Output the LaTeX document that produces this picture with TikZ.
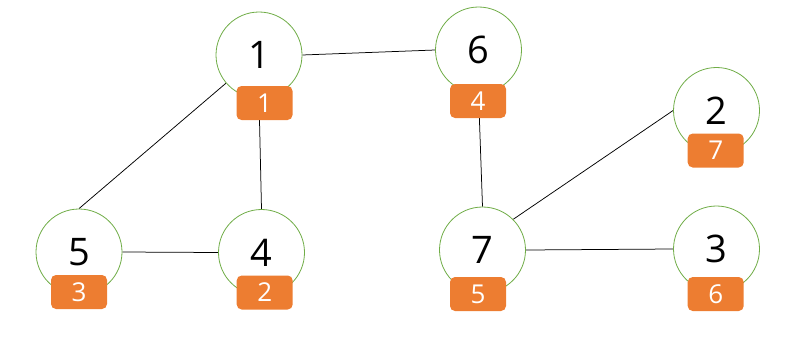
\documentclass[tikz,border=0pt]{standalone}
\usepackage{fontspec}
\setmainfont{Open Sans}
\usetikzlibrary{backgrounds}
\definecolor{cgreen}{HTML}{70AD47}
\definecolor{corange}{HTML}{ED7D31}
\begin{document}
\begin{tikzpicture}[x=1pt,y=-1pt,
 vnode/.style={circle,draw=cgreen,line width=0.8pt,fill=white,minimum size=86pt,inner sep=0pt,font=\fontsize{38}{40}\selectfont},
 tag/.style={rectangle,rounded corners=5pt,fill=corange,text=white,minimum width=56pt,minimum height=34pt,inner sep=0pt,font=\fontsize{26}{28}\selectfont},
 edge/.style={draw=black,line width=0.75pt}]
\useasboundingbox (0,0) rectangle (802,345);
% vertices
\node[vnode] (n1) at (259,55) {1};
\node[vnode] (n6) at (478.5,50) {6};
\node[vnode] (n2) at (716.5,110.5) {2};
\node[vnode] (n5) at (79,252) {5};
\node[vnode] (n4) at (261.5,252.5) {4};
\node[vnode] (n7) at (482.5,250) {7};
\node[vnode] (n3) at (716.5,249) {3};
% tags
\node[tag] (t1) at (264.5,103) {1};
\node[tag] (t6) at (478,101) {4};
\node[tag] (t2) at (715.7,150.5) {7};
\node[tag] (t5) at (79,292) {3};
\node[tag] (t4) at (264.7,292.5) {2};
\node[tag] (t7) at (478,294) {5};
\node[tag] (t3) at (715.7,294) {6};
% edges
\begin{pgfonlayer}{background}
\draw[edge] (n1.east) -- (n6.west);
\draw[edge] (n1) -- (n5.north);
\draw[edge] (n1.south) -- (n4.north);
\draw[edge] (n5.east) -- (n4.west);
\draw[edge] (n6.south) -- (n7.north);
\draw[edge] (n7.north east) -- (n2.west);
\draw[edge] (n7.east) -- (n3.west);
\end{pgfonlayer}
\end{tikzpicture}
\end{document}
